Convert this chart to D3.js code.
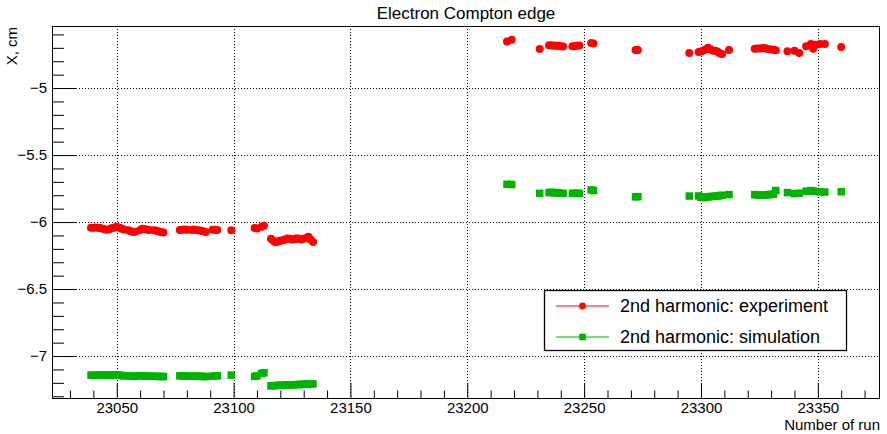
<!DOCTYPE html>
<html>
<head>
<meta charset="utf-8">
<script src="https://cdn.jsdelivr.net/npm/d3@7"></script>
<style>
  body { margin: 0; background: #fff; }
  svg { display: block; font-family: "Liberation Sans", Arial, Helvetica, sans-serif; }
</style>
</head>
<body>
<svg id="chart" width="887" height="434"></svg>
<script>
// ---- data ----
const runs = [
  23039,23040,23041,23042,23043,23044,23045,23046,23047,23048,23049,23050,23051,23052,23053,23055,23056,23057,23058,23060,23061,23062,23063,23064,23066,23067,23068,23069,23070,
  23077,23078,23079,23080,23082,23083,23084,23085,23086,23087,23088,23091,23092,23093,
  23099,
  23109,23110,23112,23113,
  23116,23117,23118,23119,23120,23121,23122,23123,23124,23125,23126,23127,23128,23129,23130,23131,23132,23133,23134,
  23217,23219,
  23231,
  23235,23236,23237,23238,23239,23240,23241,
  23245,23246,23247,23248,
  23253,23254,
  23272,23273,
  23295,
  23299,23300,23301,23302,23303,23304,23305,23306,23307,23308,23309,23312,
  23323,23324,23325,23326,23327,23328,23329,23330,23331,23332,
  23337,23340,23342,
  23345,23347,23348,23349,23351,23353,
  23360
];
const experiment = [
  -6.042,-6.042,-6.040,-6.043,-6.045,-6.050,-6.055,-6.058,-6.052,-6.045,-6.040,-6.035,-6.040,-6.048,-6.055,-6.062,-6.068,-6.075,-6.072,-6.060,-6.050,-6.052,-6.058,-6.060,-6.062,-6.065,-6.070,-6.075,-6.078,
  -6.060,-6.058,-6.055,-6.058,-6.060,-6.055,-6.060,-6.062,-6.065,-6.068,-6.075,-6.058,-6.058,-6.060,
  -6.062,
  -6.045,-6.048,-6.035,-6.028,
  -6.125,-6.140,-6.150,-6.145,-6.140,-6.135,-6.130,-6.122,-6.125,-6.130,-6.128,-6.120,-6.125,-6.130,-6.125,-6.120,-6.110,-6.130,-6.148,
  -4.652,-4.640,
  -4.709,
  -4.680,-4.682,-4.682,-4.684,-4.685,-4.688,-4.690,
  -4.688,-4.686,-4.684,-4.682,
  -4.664,-4.668,
  -4.716,-4.716,
  -4.739,
  -4.731,-4.728,-4.720,-4.712,-4.700,-4.710,-4.720,-4.722,-4.728,-4.740,-4.746,-4.716,
  -4.706,-4.705,-4.704,-4.703,-4.702,-4.705,-4.710,-4.712,-4.715,-4.718,
  -4.726,-4.721,-4.739,
  -4.689,-4.672,-4.706,-4.677,-4.672,-4.672,
  -4.694
];
const simulation = [
  -7.142,-7.143,-7.144,-7.142,-7.140,-7.141,-7.143,-7.145,-7.142,-7.140,-7.141,-7.140,-7.142,-7.145,-7.147,-7.148,-7.150,-7.152,-7.150,-7.148,-7.147,-7.148,-7.150,-7.150,-7.150,-7.152,-7.152,-7.153,-7.153,
  -7.148,-7.147,-7.148,-7.150,-7.150,-7.149,-7.150,-7.151,-7.152,-7.152,-7.153,-7.150,-7.148,-7.147,
  -7.142,
  -7.152,-7.148,-7.130,-7.125,
  -7.222,-7.221,-7.220,-7.219,-7.218,-7.218,-7.217,-7.216,-7.215,-7.215,-7.214,-7.213,-7.212,-7.212,-7.211,-7.210,-7.209,-7.208,-7.208,
  -5.718,-5.720,
  -5.786,
  -5.780,-5.778,-5.782,-5.780,-5.783,-5.785,-5.786,
  -5.786,-5.786,-5.785,-5.786,
  -5.760,-5.765,
  -5.812,-5.810,
  -5.806,
  -5.805,-5.815,-5.818,-5.815,-5.812,-5.810,-5.808,-5.808,-5.805,-5.803,-5.800,-5.795,
  -5.795,-5.798,-5.800,-5.800,-5.798,-5.797,-5.795,-5.794,-5.792,-5.765,
  -5.780,-5.788,-5.785,
  -5.770,-5.765,-5.770,-5.772,-5.775,-5.776,
  -5.774
];
const xMajorTicks = [23050,23100,23150,23200,23250,23300,23350];
const yMajorTicks = [-7,-6.5,-6,-5.5,-5];
const yTickLabels = ["\u22127","\u22126.5","\u22126","\u22125.5","\u22125"];
const seriesNames = ["2nd harmonic: experiment","2nd harmonic: simulation"];
const titleText = "Electron Compton edge";
const xTitle = "Number of run";
const yTitle = "X, cm";

// ---- layout ----
const L = 52, R = 880, T = 26, B = 398;
const red = "#ff0000", green = "#00b300";
const svg = d3.select("#chart");

const x = d3.scaleLinear().domain([23022.3, 23376.6]).range([L, R]);
const y = d3.scaleLinear().domain([-7.313, -4.537]).range([B, T]);

const xMinor = d3.range(23030, 23371, 10).filter(v => !xMajorTicks.includes(v));
const yMinor = d3.range(-73, -45).map(v => v / 10).filter(v => !yMajorTicks.some(m => Math.abs(m - v) < 1e-9));

// grid
const grid = svg.append("g").attr("stroke", "#000").attr("stroke-width", 1).attr("stroke-dasharray", "1,2");
grid.selectAll("line.gx").data(xMajorTicks).join("line")
  .attr("x1", d => Math.round(x(d)) + 0.5).attr("x2", d => Math.round(x(d)) + 0.5)
  .attr("y1", T).attr("y2", B);
grid.selectAll("line.gy").data(yMajorTicks).join("line")
  .attr("x1", L).attr("x2", R)
  .attr("y1", d => Math.round(y(d)) + 0.5).attr("y2", d => Math.round(y(d)) + 0.5);

// axes
const fmtY = d => yTickLabels[yMajorTicks.indexOf(d)];
svg.append("g").attr("transform", `translate(0,${B})`)
  .call(d3.axisBottom(x).tickValues(xMajorTicks).tickSize(-15).tickPadding(4).tickFormat(d3.format("d")));
svg.append("g").attr("transform", `translate(0,${B})`)
  .call(d3.axisBottom(x).tickValues(xMinor).tickSize(-7.5).tickFormat(""));
svg.append("g").attr("transform", `translate(${L},0)`)
  .call(d3.axisLeft(y).tickValues(yMajorTicks).tickSize(-24).tickPadding(5).tickFormat(fmtY));
svg.append("g").attr("transform", `translate(${L},0)`)
  .call(d3.axisLeft(y).tickValues(yMinor).tickSize(-12).tickFormat(""));
svg.selectAll(".domain").remove();
svg.selectAll(".tick line").attr("stroke", "#000");
svg.selectAll(".tick text").attr("font-size", 15).attr("fill", "#000")
  .attr("font-family", "'Liberation Sans', Arial, sans-serif");

// frame
svg.append("rect").attr("x", L + 0.5).attr("y", T + 0.5).attr("width", R - L - 1).attr("height", B - T)
  .attr("fill", "none").attr("stroke", "#000").attr("stroke-width", 1);

// data
const pts = runs.map((r, i) => ({ r, e: experiment[i], s: simulation[i] }));
const ms = 7.5;
svg.append("g").selectAll("rect").data(pts).join("rect")
  .attr("x", d => x(d.r) - ms / 2).attr("y", d => y(d.s) - ms / 2)
  .attr("width", ms).attr("height", ms).attr("fill", green);
svg.append("g").selectAll("circle").data(pts).join("circle")
  .attr("cx", d => x(d.r)).attr("cy", d => y(d.e)).attr("r", 4).attr("fill", red);

// titles
svg.append("text").attr("x", 466).attr("y", 19).attr("text-anchor", "middle")
  .attr("font-size", 17).text(titleText);
svg.append("text").attr("x", R).attr("y", 430).attr("text-anchor", "end")
  .attr("font-size", 15).text(xTitle);
svg.append("text").attr("transform", `translate(17,${T + 1}) rotate(-90)`).attr("text-anchor", "end")
  .attr("font-size", 15).text(yTitle);

// legend
const lg = svg.append("g");
lg.append("rect").attr("x", 544.5).attr("y", 290.5).attr("width", 302).attr("height", 60)
  .attr("fill", "#fff").attr("stroke", "#000").attr("stroke-width", 1.3);
const rows = [306, 337];
seriesNames.forEach((name, i) => {
  const c = i === 0 ? red : green;
  lg.append("line").attr("x1", 556).attr("x2", 609).attr("y1", rows[i]).attr("y2", rows[i])
    .attr("stroke", c).attr("stroke-width", 1);
  if (i === 0) lg.append("circle").attr("cx", 582.5).attr("cy", rows[i]).attr("r", 3.4).attr("fill", c);
  else lg.append("rect").attr("x", 582.5 - 3.3).attr("y", rows[i] - 3.3).attr("width", 6.6).attr("height", 6.6).attr("fill", c);
  lg.append("text").attr("x", 620).attr("y", rows[i]).attr("dy", "0.35em")
    .attr("font-size", 18).text(name);
});
</script>
</body>
</html>
